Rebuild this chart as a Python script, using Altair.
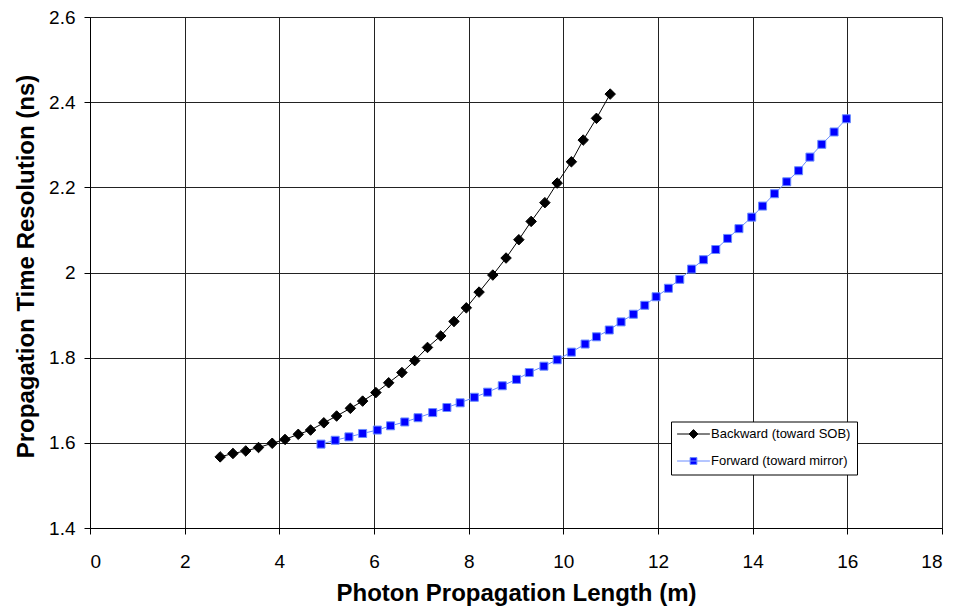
import altair as alt
import pandas as pd

# ---- data ----
series_names = ["Backward (toward SOB)", "Forward (toward mirror)"]

backward_x = [2.75, 3.02, 3.29, 3.56, 3.85, 4.12, 4.40, 4.66, 4.94, 5.21, 5.50,
              5.76, 6.04, 6.31, 6.59, 6.86, 7.13, 7.41, 7.69, 7.95, 8.22, 8.51,
              8.79, 9.06, 9.32, 9.61, 9.87, 10.17, 10.42, 10.70, 10.99]
backward_y = [1.567, 1.575, 1.581, 1.589, 1.599, 1.608, 1.620, 1.630, 1.647, 1.663,
              1.681, 1.698, 1.718, 1.741, 1.765, 1.793, 1.824, 1.851, 1.885, 1.917,
              1.954, 1.994, 2.034, 2.077, 2.120, 2.164, 2.210, 2.260, 2.311, 2.362,
              2.419]

forward_x = [4.88, 5.18, 5.47, 5.76, 6.07, 6.35, 6.65, 6.93, 7.24, 7.54, 7.82,
             8.12, 8.40, 8.71, 9.01, 9.28, 9.59, 9.87, 10.17, 10.46, 10.70, 10.97,
             11.22, 11.48, 11.72, 11.96, 12.22, 12.46, 12.71, 12.96, 13.22, 13.47,
             13.71, 13.98, 14.21, 14.46, 14.72, 14.97, 15.21, 15.46, 15.72, 15.98]
forward_y = [1.597, 1.606, 1.614, 1.622, 1.630, 1.640, 1.649, 1.659, 1.671, 1.683,
             1.694, 1.707, 1.719, 1.734, 1.749, 1.765, 1.780, 1.795, 1.813, 1.832,
             1.849, 1.865, 1.884, 1.902, 1.923, 1.943, 1.963, 1.984, 2.008, 2.030,
             2.054, 2.080, 2.103, 2.130, 2.156, 2.185, 2.213, 2.239, 2.271, 2.301,
             2.330, 2.361]

x_ticks = [0, 2, 4, 6, 8, 10, 12, 14, 16, 18]
y_ticks = [1.4, 1.6, 1.8, 2.0, 2.2, 2.4, 2.6]

df = pd.concat([
    pd.DataFrame({"x": backward_x, "y": backward_y, "series": series_names[0]}),
    pd.DataFrame({"x": forward_x, "y": forward_y, "series": series_names[1]}),
], ignore_index=True)

FONT = "Liberation Sans"

# legend symbols: a short line with the marker on it
PATH_B = "M-4.1,0L4.1,0M0,-1.1L1.1,0L0,1.1L-1.1,0Z"
PATH_F = "M-4.1,0L4.1,0M-0.85,-0.85L0.85,-0.85L0.85,0.85L-0.85,0.85Z"

fill_scale = alt.Scale(domain=series_names, range=["#000000", "#0000ff"])
stroke_scale = alt.Scale(domain=series_names, range=["#000000", "#6a8cff"])
shape_scale = alt.Scale(domain=series_names, range=[PATH_B, PATH_F])

x_enc = alt.X(
    "x:Q",
    scale=alt.Scale(domain=[0, 18], nice=False, zero=False),
    axis=alt.Axis(
        values=x_ticks, format="~g",
        title="Photon Propagation Length (m)",
        labelPadding=18,
        titleBaseline="alphabetic", titleY=72.5,
    ),
)
y_enc = alt.Y(
    "y:Q",
    scale=alt.Scale(domain=[1.4, 2.6], nice=False, zero=False),
    axis=alt.Axis(
        values=y_ticks, format="~g",
        title="Propagation Time Resolution (ns)",
        labelPadding=9,
        titleAngle=270, titleAlign="center", titleBaseline="alphabetic",
        titleX=-56.5, titleY=249,
    ),
)

legend = alt.Legend(
    title=None, orient="none", legendX=581, legendY=404.5,
    padding=6, strokeColor="#000000", fillColor="#ffffff", cornerRadius=0,
    labelFont=FONT, labelFontSize=13, labelColor="#000000",
    symbolSize=64, symbolStrokeWidth=1, symbolOffset=10, labelOffset=11,
    rowPadding=13,
)

base = alt.Chart(df)

# empty layer that only carries the legend (first, so its legend settings win)
legend_layer = base.transform_filter("false").mark_point(
    filled=True, opacity=1, strokeWidth=1
).encode(
    x=x_enc, y=y_enc,
    fill=alt.Fill("series:N", scale=fill_scale, legend=legend),
    stroke=alt.Stroke("series:N", scale=stroke_scale, legend=legend),
    shape=alt.Shape("series:N", scale=shape_scale, legend=legend),
)

lines = base.mark_line(strokeWidth=1).encode(
    x=x_enc, y=y_enc,
    stroke=alt.Stroke("series:N", scale=stroke_scale, legend=None),
    detail="series:N",
)

pts_b = base.transform_filter(alt.datum.series == series_names[0]).mark_point(
    filled=True, shape="diamond", size=110, opacity=1, strokeWidth=1
).encode(
    x=x_enc, y=y_enc,
    fill=alt.Fill("series:N", scale=fill_scale, legend=None),
    stroke=alt.Stroke("series:N", scale=stroke_scale, legend=None),
)

pts_f = base.transform_filter(alt.datum.series == series_names[1]).mark_point(
    filled=True, shape="square", size=64, opacity=1, strokeWidth=1
).encode(
    x=x_enc, y=y_enc,
    fill=alt.Fill("series:N", scale=fill_scale, legend=None),
    stroke=alt.Stroke("series:N", scale=stroke_scale, legend=None),
)

chart = alt.layer(legend_layer, lines, pts_b, pts_f).properties(
    width=852, height=511,
    autosize=alt.AutoSizeParams(type="none"),
    padding={"left": 90, "top": 17, "right": 12, "bottom": 80},
    background="#ffffff",
).configure_axis(
    labelFont=FONT, labelFontSize=19, labelColor="#000000",
    titleFont=FONT, titleFontSize=24, titleFontWeight="bold", titleColor="#000000",
    domainColor="#000000", domainWidth=1,
    tickColor="#000000", tickSize=6, tickWidth=1,
    grid=True, gridColor="#222222", gridWidth=1, gridOpacity=1,
).configure_view(
    stroke="transparent",
)

chart.save("out.html", embed_options={"renderer": "svg", "actions": False})
